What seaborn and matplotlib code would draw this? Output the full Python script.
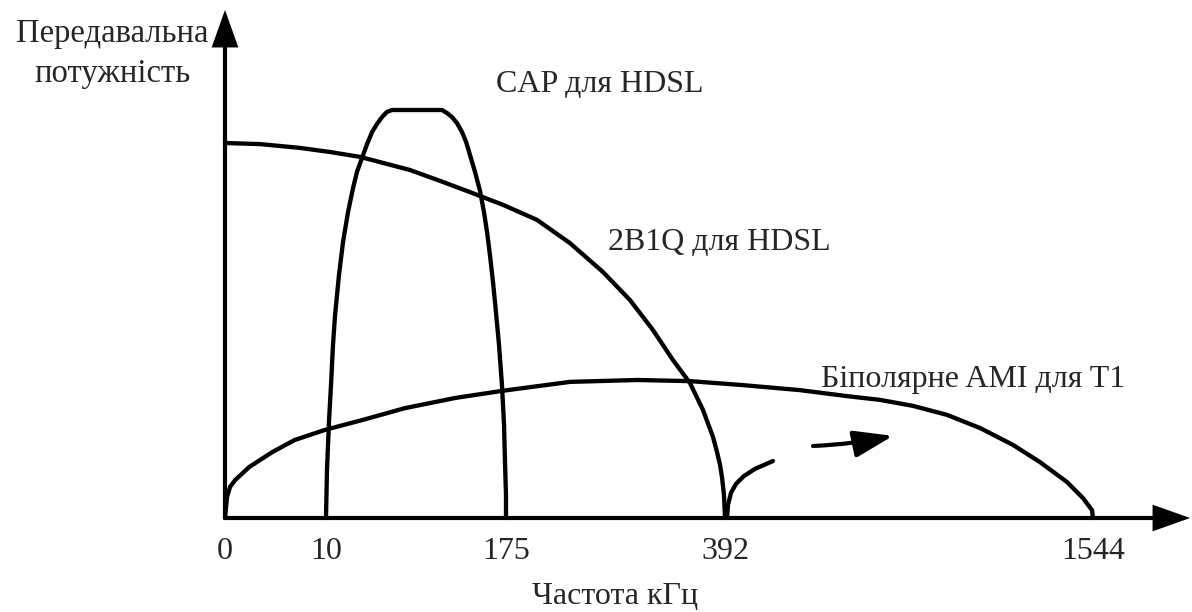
import numpy as np
import matplotlib
matplotlib.use("Agg")
import matplotlib.pyplot as plt
import seaborn as sns

# frequency ticks (kHz) and their spacing along the drawn axis (the axis is schematic, not linear)
TICK_KHZ = np.array([0, 10, 175, 392, 1544])
TICK_POS = np.array([0, 101, 281, 500, 868])
TICK_LABELS = ["0", "10", "175", "392", "1544"]

# 2B1Q for HDSL
B1Q_KHZ = [0, 3.5, 7.4, 13.7, 41.2, 87.0, 114.5, 142.0, 172.3, 205.7, 238.4, 271.1, 297.9,
           320.7, 340.5, 357.3, 370.2, 380.1, 384.1, 387.1, 389.0, 391.0, 392]
B1Q_PWR = [100, 99.7, 98.7, 97.6, 96.3, 92.8, 89.9, 86.9, 83.5, 79.5, 73.3, 65.6, 58.1,
           50.1, 42.1, 36.0, 28.8, 21.6, 17.6, 14.1, 10.9, 6.1, 0]

# CAP for HDSL
CAP_KHZ = [10, 10.9, 12.8, 14.6, 16.4, 18.3, 21.9, 25.6, 30.2, 34.8, 38.4, 43.0, 47.6, 52.2,
           56.8, 61.3, 65.9, 70.5,
           116.3, 120.9, 125.5, 130.1, 134.7, 138.4, 142.0, 146.6, 151.2, 154.8, 157.6, 160.3,
           163.1, 165.8, 168.6, 171.3, 173.2, 174.1, 175, 175]
CAP_PWR = [0, 12.8, 26.1, 35.5, 46.1, 54.1, 64.8, 73.6, 81.6, 88.0, 92.3, 96.0, 99.7, 102.9,
           105.1, 106.9, 108.3, 108.8,
           108.8, 108.0, 106.9, 105.3, 102.9, 100.3, 96.8, 92.3, 87.2, 81.6, 76.3, 70.1,
           62.9, 54.9, 46.1, 35.5, 24.8, 14.7, 6.1, 0]

# bipolar AMI for T1
AMI_KHZ = [0, 0.2, 0.5, 1.0, 2.4, 4.7, 6.9, 9.9, 43.0, 82.4, 128.3, 171.3, 238.4, 304.8, 357.3,
           439.0, 626.8, 773.9, 877.2, 980.5, 1086.9, 1190.2, 1293.4, 1378.1, 1462.6, 1512.7,
           1540.9, 1544]
AMI_PWR = [0, 5.6, 8.3, 10.1, 13.6, 17.6, 20.8, 23.5, 26.1, 29.3, 32.0, 33.9, 36.3, 36.8, 36.5,
           35.5, 34.1, 32.5, 31.5, 29.9, 27.5, 24.0, 19.5, 14.9, 9.6, 5.3,
           2.1, 0]

# short rising arc past 392 kHz and the arrow after it
ARC_KHZ = [398.3, 401.4, 410.8, 426.4, 451.5, 485.9, 542.2]
ARC_PWR = [0, 3.5, 6.7, 9.1, 11.2, 13.1, 15.2]
ARROW_FROM = (667.5, 19.2)
ARROW_TO = (917.9, 21.9)


def _piecewise(x, xs, ys):
    x = np.asarray(x, dtype=float)
    lo = (ys[1] - ys[0]) / (xs[1] - xs[0])
    hi = (ys[-1] - ys[-2]) / (xs[-1] - xs[-2])
    y = np.interp(x, xs, ys)
    y = np.where(x < xs[0], ys[0] + (x - xs[0]) * lo, y)
    y = np.where(x > xs[-1], ys[-1] + (x - xs[-1]) * hi, y)
    return y


def fwd(x):
    return _piecewise(x, TICK_KHZ, TICK_POS)


def inv(p):
    return _piecewise(p, TICK_POS, TICK_KHZ)


sns.set_style("white")
plt.rcParams["font.family"] = ["Liberation Serif", "DejaVu Serif"]

fig = plt.figure(figsize=(11.92, 6.12), dpi=100)
ax = fig.add_axes([0, 0, 1, 1])
ax.set_xscale("function", functions=(fwd, inv))
ax.set_xlim(inv(-225), inv(967))
ax.set_ylim(-94 / 3.75, 518 / 3.75)

line_kw = dict(color="black", lw=3.1, sort=False, estimator=None,
               solid_capstyle="round", solid_joinstyle="round")
sns.lineplot(x=B1Q_KHZ, y=B1Q_PWR, ax=ax, **line_kw)
sns.lineplot(x=CAP_KHZ, y=CAP_PWR, ax=ax, **line_kw)
sns.lineplot(x=AMI_KHZ, y=AMI_PWR, ax=ax, **line_kw)
sns.lineplot(x=ARC_KHZ, y=ARC_PWR, ax=ax, **line_kw)

# axes drawn as arrows
axis_arrow = dict(arrowstyle="-|>,head_length=1.4,head_width=0.5", color="black",
                  lw=3, shrinkA=0, shrinkB=0, mutation_scale=15, joinstyle="miter")
ax.annotate("", xy=(inv(965), 0), xytext=(0, 0), arrowprops=axis_arrow)
ax.annotate("", xy=(0, 508 / 3.75), xytext=(0, 0), arrowprops=axis_arrow)
ax.annotate("", xy=ARROW_TO, xytext=ARROW_FROM,
            arrowprops=dict(arrowstyle="-|>,head_length=1.6,head_width=0.55", color="black",
                            lw=3, shrinkA=0, shrinkB=0, mutation_scale=15,
                            connectionstyle="arc3,rad=0.04"))

for s in ax.spines.values():
    s.set_visible(False)
ax.spines["bottom"].set_position(("data", 0))
ax.set_xticks(TICK_KHZ, TICK_LABELS)
ax.set_yticks([])
ax.tick_params(axis="x", length=0, pad=14, labelsize=23)
ax.minorticks_off()
ax.grid(False)

ax.text(268, 115.7, "CAP для HDSL", fontsize=23, ha="center", va="center")
ax.text(386, 73.6, "2B1Q для HDSL", fontsize=23, ha="center", va="center")
ax.text(1168, 36.8, "Біполярне AMI для T1", fontsize=23, ha="center", va="center")

fig.text(112 / 1192, 1 - 54 / 612, "Передавальна\nпотужність", fontsize=23.5,
         ha="center", va="center", linespacing=1.4)
fig.text(615 / 1192, 1 - 596 / 612, "Частота кГц", fontsize=23, ha="center", va="center")

fig.savefig("out.png", dpi=100)
